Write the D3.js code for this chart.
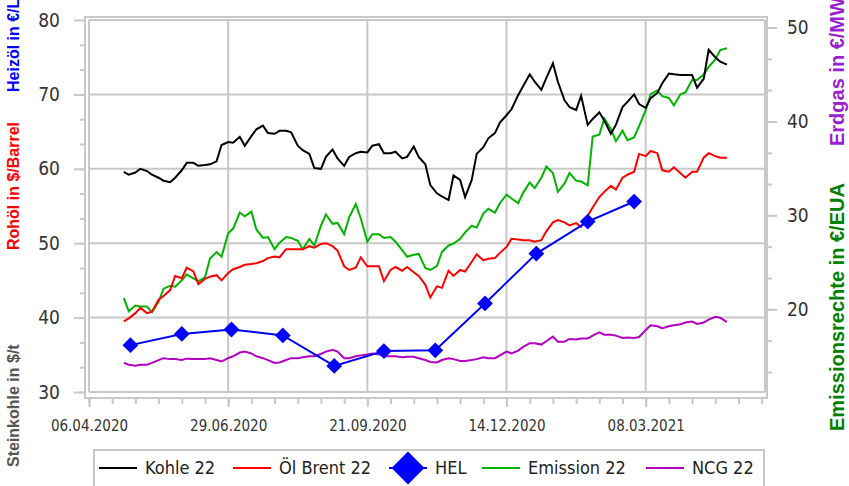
<!DOCTYPE html>
<html>
<head>
<meta charset="utf-8">
<script src="https://cdnjs.cloudflare.com/ajax/libs/d3/7.8.5/d3.min.js"></script>
<style>
  body { margin: 0; background: #fff; }
  svg { display: block; }
  .tick text { font-family: "DejaVu Sans Condensed", "DejaVu Sans", sans-serif; fill: #333; }
  .title { font-family: "Liberation Sans", Arial, sans-serif; font-weight: bold; }
</style>
</head>
<body>
<script>
// trading days, Mon/Thu sampling
const dates = [
  "2020-04-27","2020-04-30","2020-05-04","2020-05-07","2020-05-11","2020-05-14","2020-05-18","2020-05-21",
  "2020-05-25","2020-05-28","2020-06-01","2020-06-04","2020-06-08","2020-06-11","2020-06-15","2020-06-18",
  "2020-06-22","2020-06-25","2020-06-29","2020-07-02","2020-07-06","2020-07-09","2020-07-13","2020-07-16",
  "2020-07-20","2020-07-23","2020-07-27","2020-07-30","2020-08-03","2020-08-06","2020-08-10","2020-08-13",
  "2020-08-17","2020-08-20","2020-08-24","2020-08-27","2020-08-31","2020-09-03","2020-09-07","2020-09-10",
  "2020-09-14","2020-09-17","2020-09-21","2020-09-24","2020-09-28","2020-10-01","2020-10-05","2020-10-08",
  "2020-10-12","2020-10-15","2020-10-19","2020-10-22","2020-10-26","2020-10-29","2020-11-02","2020-11-05",
  "2020-11-09","2020-11-12","2020-11-16","2020-11-19","2020-11-23","2020-11-26","2020-11-30","2020-12-03",
  "2020-12-07","2020-12-10","2020-12-14","2020-12-17","2020-12-21","2020-12-24","2020-12-28","2020-12-31",
  "2021-01-04","2021-01-07","2021-01-11","2021-01-14","2021-01-18","2021-01-21","2021-01-25","2021-01-28",
  "2021-02-01","2021-02-04","2021-02-08","2021-02-11","2021-02-15","2021-02-18","2021-02-22","2021-02-25",
  "2021-03-01","2021-03-04","2021-03-08","2021-03-11","2021-03-15","2021-03-18","2021-03-22","2021-03-25",
  "2021-03-29","2021-04-01","2021-04-05","2021-04-08","2021-04-12","2021-04-15","2021-04-19","2021-04-22",
  "2021-04-26"
]

// Kohle 22 ($/t, left axis)
const kohle = [
  59.6,59.2,59.5,60.0,59.7,59.2,58.8,58.4,58.2,58.8,59.8,60.8,60.8,60.4,60.5,60.6,
  61.0,63.2,63.6,63.5,64.3,63.1,64.4,65.3,65.8,64.8,64.7,65.1,65.1,64.9,63.1,62.5,
  62.0,60.1,60.0,61.6,62.6,61.4,60.4,61.6,62.1,62.3,62.2,63.1,63.3,62.1,62.1,62.3,
  61.4,61.6,63.0,61.6,60.6,57.8,56.7,56.3,55.8,59.1,58.5,56.2,58.5,62.0,62.9,64.1,
  64.8,66.2,67.2,68.0,69.9,71.1,72.7,71.7,70.6,72.2,74.2,71.7,69.2,68.3,67.9,69.8,
  65.9,66.7,67.6,66.5,64.7,65.9,68.3,69.0,70.0,68.7,68.2,69.5,70.2,71.5,72.8,72.7,
  72.6,72.6,72.6,70.9,72.1,76.0,75.0,74.4,74.0
]

// Öl Brent 22 ($/Barrel, left axis)
const brent = [
  39.5,39.9,40.6,41.3,40.6,40.8,42.4,42.9,43.7,45.6,45.3,46.7,46.2,44.5,45.2,45.5,
  45.7,45.0,46.0,46.5,46.8,47.1,47.2,47.3,47.6,48.0,48.2,48.1,49.2,49.2,49.2,49.2,
  49.6,49.4,49.9,50.0,49.6,49.0,46.9,46.4,46.7,48.1,46.9,46.9,46.9,44.9,46.4,46.8,
  46.3,46.8,46.1,45.6,44.4,42.7,44.2,44.0,46.3,45.6,46.4,46.2,47.5,48.5,47.7,47.9,
  48.0,48.7,49.5,50.6,50.5,50.4,50.4,50.2,50.4,51.6,52.8,53.1,52.8,52.4,52.7,52.2,
  53.7,54.8,56.2,56.9,57.7,57.2,58.8,59.2,59.6,62.0,61.7,62.4,62.1,59.8,59.6,60.2,
  59.4,58.8,59.6,59.6,61.5,62.1,61.7,61.5,61.5
]

// Emission 22 (€/EUA, right axis)
const emission = [
  21.2,19.8,20.4,20.3,20.3,19.7,20.8,22.2,22.5,22.4,23.1,23.7,23.3,23.0,23.4,25.4,
  26.1,25.6,28.1,28.6,30.3,29.9,30.4,28.5,27.6,27.7,26.4,27.1,27.7,27.6,27.3,26.4,
  27.5,26.8,28.9,30.1,29.1,29.2,28.0,29.8,31.2,29.7,27.2,28.0,28.0,27.6,27.7,27.2,
  26.3,25.6,25.8,25.9,24.4,24.2,24.6,26.1,26.8,27.0,27.5,28.2,28.9,28.7,30.2,30.7,
  30.3,31.3,32.2,31.8,31.3,32.4,33.5,32.9,34.0,35.2,34.5,32.5,33.4,34.5,33.7,33.6,
  33.2,38.4,38.6,40.3,39.2,37.9,39.0,38.0,38.3,39.5,41.2,42.9,43.3,42.7,42.5,41.7,
  42.9,43.1,44.4,44.4,45.0,45.8,46.6,47.6,47.8
]

// NCG 22 (€/MWh, right axis)
const ncg = [
  14.3,14.1,14.0,14.1,14.1,14.3,14.6,14.8,14.7,14.7,14.6,14.75,14.7,14.7,14.7,14.8,
  14.6,14.45,14.8,15.0,15.4,15.5,15.3,15.0,14.8,14.6,14.3,14.35,14.6,14.8,14.8,14.9,
  15.0,15.0,15.25,15.5,15.7,15.5,14.8,14.8,15.0,15.1,15.2,15.3,15.2,15.0,15.0,15.0,
  14.9,14.95,14.95,14.8,14.6,14.4,14.35,14.6,14.8,14.7,14.5,14.5,14.6,14.7,14.9,14.8,
  14.8,15.1,15.5,15.3,15.6,16.0,16.4,16.4,16.25,16.6,17.1,16.55,16.55,16.85,16.8,16.9,
  16.9,17.2,17.55,17.3,17.3,17.2,16.95,17.0,16.95,17.05,17.8,18.3,18.2,18.0,18.2,18.3,
  18.4,18.6,18.7,18.45,18.6,18.9,19.2,19.1,18.65
]

// HEL (monthly, left axis)
const helDates = ["2020-05-01","2020-06-01","2020-07-01","2020-08-01","2020-09-01","2020-10-01",
  "2020-11-01","2020-12-01","2021-01-01","2021-02-01","2021-03-01"]
const hel = [36.3, 37.8, 38.4, 37.6, 33.5, 35.5, 35.6, 41.9, 48.6, 52.9, 55.6]

const leftTicks = [30, 40, 50, 60, 70, 80]
const rightTicks = [20, 30, 40, 50]
const xTickDates = ["2020-04-06","2020-06-29","2020-09-21","2020-12-14","2021-03-08"]

const m = { width: 849, height: 486 }
const plot = { left: 89, right: 765, top: 20, bottom: 392 }

const parse = d3.timeParse('%Y-%m-%d')
const fmt = d3.timeFormat('%d.%m.%Y')

const svg = d3.select('body').append('svg')
    .attr('width', m.width)
    .attr('height', m.height)

const start = parse('2020-04-06')
const x = d3.scaleTime()
    .domain([start, parse('2021-05-19')])
    .range([plot.left, plot.right])
const yL = d3.scaleLinear().domain([30, 80]).range([plot.bottom, plot.top])
const yR = d3.scaleLinear().domain([11.2, 50.8]).range([plot.bottom, plot.top])

const grid = '#c8c8c8'

// outer frame
svg.append('rect')
    .attr('x', 85).attr('y', 17)
    .attr('width', 682).attr('height', 381)
    .attr('fill', 'none').attr('stroke', grid).attr('stroke-width', 2)

// grid
svg.append('g').selectAll('line')
    .data(leftTicks)
    .enter().append('line')
        .attr('x1', plot.left).attr('x2', plot.right)
        .attr('y1', d => yL(d)).attr('y2', d => yL(d))
        .attr('stroke', grid).attr('stroke-width', 2)

svg.append('g').selectAll('line')
    .data(xTickDates.map(parse))
    .enter().append('line')
        .attr('x1', d => x(d)).attr('x2', d => x(d))
        .attr('y1', plot.top).attr('y2', plot.bottom)
        .attr('stroke', grid).attr('stroke-width', 2)

svg.append('line')
    .attr('x1', plot.right).attr('x2', plot.right)
    .attr('y1', plot.top).attr('y2', plot.bottom)
    .attr('stroke', grid).attr('stroke-width', 2)

// axes
function styleAxis(g) {
    g.select('.domain').remove()
    g.selectAll('.tick line').attr('stroke', grid).attr('stroke-width', 2)
}

const thirds = d3.range(30, 80, 10 / 3)
svg.append('g')
    .attr('transform', 'translate(85,0)')
    .call(d3.axisLeft(yL).tickValues(thirds).tickSize(5).tickFormat(''))
    .call(styleAxis)
svg.append('g')
    .attr('transform', 'translate(85,0)')
    .call(d3.axisLeft(yL).tickValues(leftTicks).tickSize(11).tickPadding(14))
    .call(styleAxis)
    .selectAll('text').style('font-size', '19px')

const rthirds = d3.range(50, 11.2, -10 / 3)
svg.append('g')
    .attr('transform', 'translate(767,0)')
    .call(d3.axisRight(yR).tickValues(rthirds).tickSize(5).tickFormat(''))
    .call(styleAxis)
svg.append('g')
    .attr('transform', 'translate(767,0)')
    .call(d3.axisRight(yR).tickValues(rightTicks).tickSize(10).tickPadding(10))
    .call(styleAxis)
    .selectAll('text').style('font-size', '19px')

// two-week minor ticks on the date axis
const minorDates = d3.range(0, 410, 14).map(d => d3.timeDay.offset(start, d))
svg.append('g')
    .attr('transform', 'translate(0,398)')
    .call(d3.axisBottom(x).tickValues(minorDates).tickSize(6).tickFormat(''))
    .call(styleAxis)
svg.append('g')
    .attr('transform', 'translate(0,398)')
    .call(d3.axisBottom(x).tickValues(xTickDates.map(parse)).tickSize(9).tickPadding(13).tickFormat(fmt))
    .call(styleAxis)
    .selectAll('text').style('font-size', '15px')

// series
const days = dates.map(parse)
function addLine(vals, yScale, color) {
    const line = d3.line()
        .x((d, i) => x(days[i]))
        .y(d => yScale(d))
    svg.append('path')
        .datum(vals)
        .attr('fill', 'none')
        .attr('stroke', color)
        .attr('stroke-width', 2)
        .attr('d', line)
}

const cKohle = '#000000', cBrent = '#ff0000', cHel = '#0000ff', cEm = '#00b400', cNcg = '#b400c0'

addLine(ncg, yR, cNcg)
addLine(emission, yR, cEm)
addLine(brent, yL, cBrent)
addLine(kohle, yL, cKohle)

const helPts = helDates.map((d, i) => [parse(d), hel[i]])
svg.append('path')
    .datum(helPts)
    .attr('fill', 'none').attr('stroke', cHel).attr('stroke-width', 2)
    .attr('d', d3.line().x(d => x(d[0])).y(d => yL(d[1])))

const diamond = d3.symbol().type(d3.symbolSquare).size(125)
svg.append('g').selectAll('path')
    .data(helPts)
    .enter().append('path')
        .attr('d', diamond)
        .attr('transform', d => `translate(${x(d[0])},${yL(d[1])}) rotate(45)`)
        .attr('fill', cHel)

// axis titles
function vTitle(txt, cx, startY, color, size) {
    svg.append('text')
        .attr('class', 'title')
        .attr('transform', `translate(${cx},${startY}) rotate(-90)`)
        .attr('dy', '0.35em')
        .style('font-size', size + 'px')
        .attr('fill', color)
        .text(txt)
}
vTitle('Steinkohle in $/t', 13, 467, '#555555', 16)
vTitle('Rohöl in $/Barrel', 13, 250, '#ff0000', 16)
vTitle('Heizöl in €/Liter', 13, 92, '#0000ff', 16)
vTitle('Emissionsrechte in €/EUA', 837, 431, '#008000', 20)
vTitle('Erdgas in €/MWh', 837, 146, '#9a1fd0', 20)

// legend
const legend = svg.append('g')
legend.append('rect')
    .attr('x', 94).attr('y', 450)
    .attr('width', 670).attr('height', 45)
    .attr('fill', '#fff').attr('stroke', grid).attr('stroke-width', 2)

const items = [
    { name: 'Kohle 22', color: cKohle, x: 99 },
    { name: 'Öl Brent 22', color: cBrent, x: 233 },
    { name: 'HEL', color: cHel, x: 389, marker: true },
    { name: 'Emission 22', color: cEm, x: 482 },
    { name: 'NCG 22', color: cNcg, x: 646 }
]
const ly = 468
items.forEach(it => {
    legend.append('line')
        .attr('x1', it.x).attr('x2', it.x + 38)
        .attr('y1', ly).attr('y2', ly)
        .attr('stroke', it.color).attr('stroke-width', 2)
    if (it.marker) {
        legend.append('path')
            .attr('d', d3.symbol().type(d3.symbolSquare).size(540))
            .attr('transform', `translate(${it.x + 19},${ly}) rotate(45)`)
            .attr('fill', it.color)
    }
    legend.append('text')
        .attr('x', it.x + 46).attr('y', ly)
        .attr('dy', '0.35em')
        .style('font-family', '"DejaVu Sans Condensed", "DejaVu Sans", sans-serif')
        .style('font-size', '18px')
        .attr('fill', '#222')
        .text(it.name)
})
</script>
</body>
</html>
